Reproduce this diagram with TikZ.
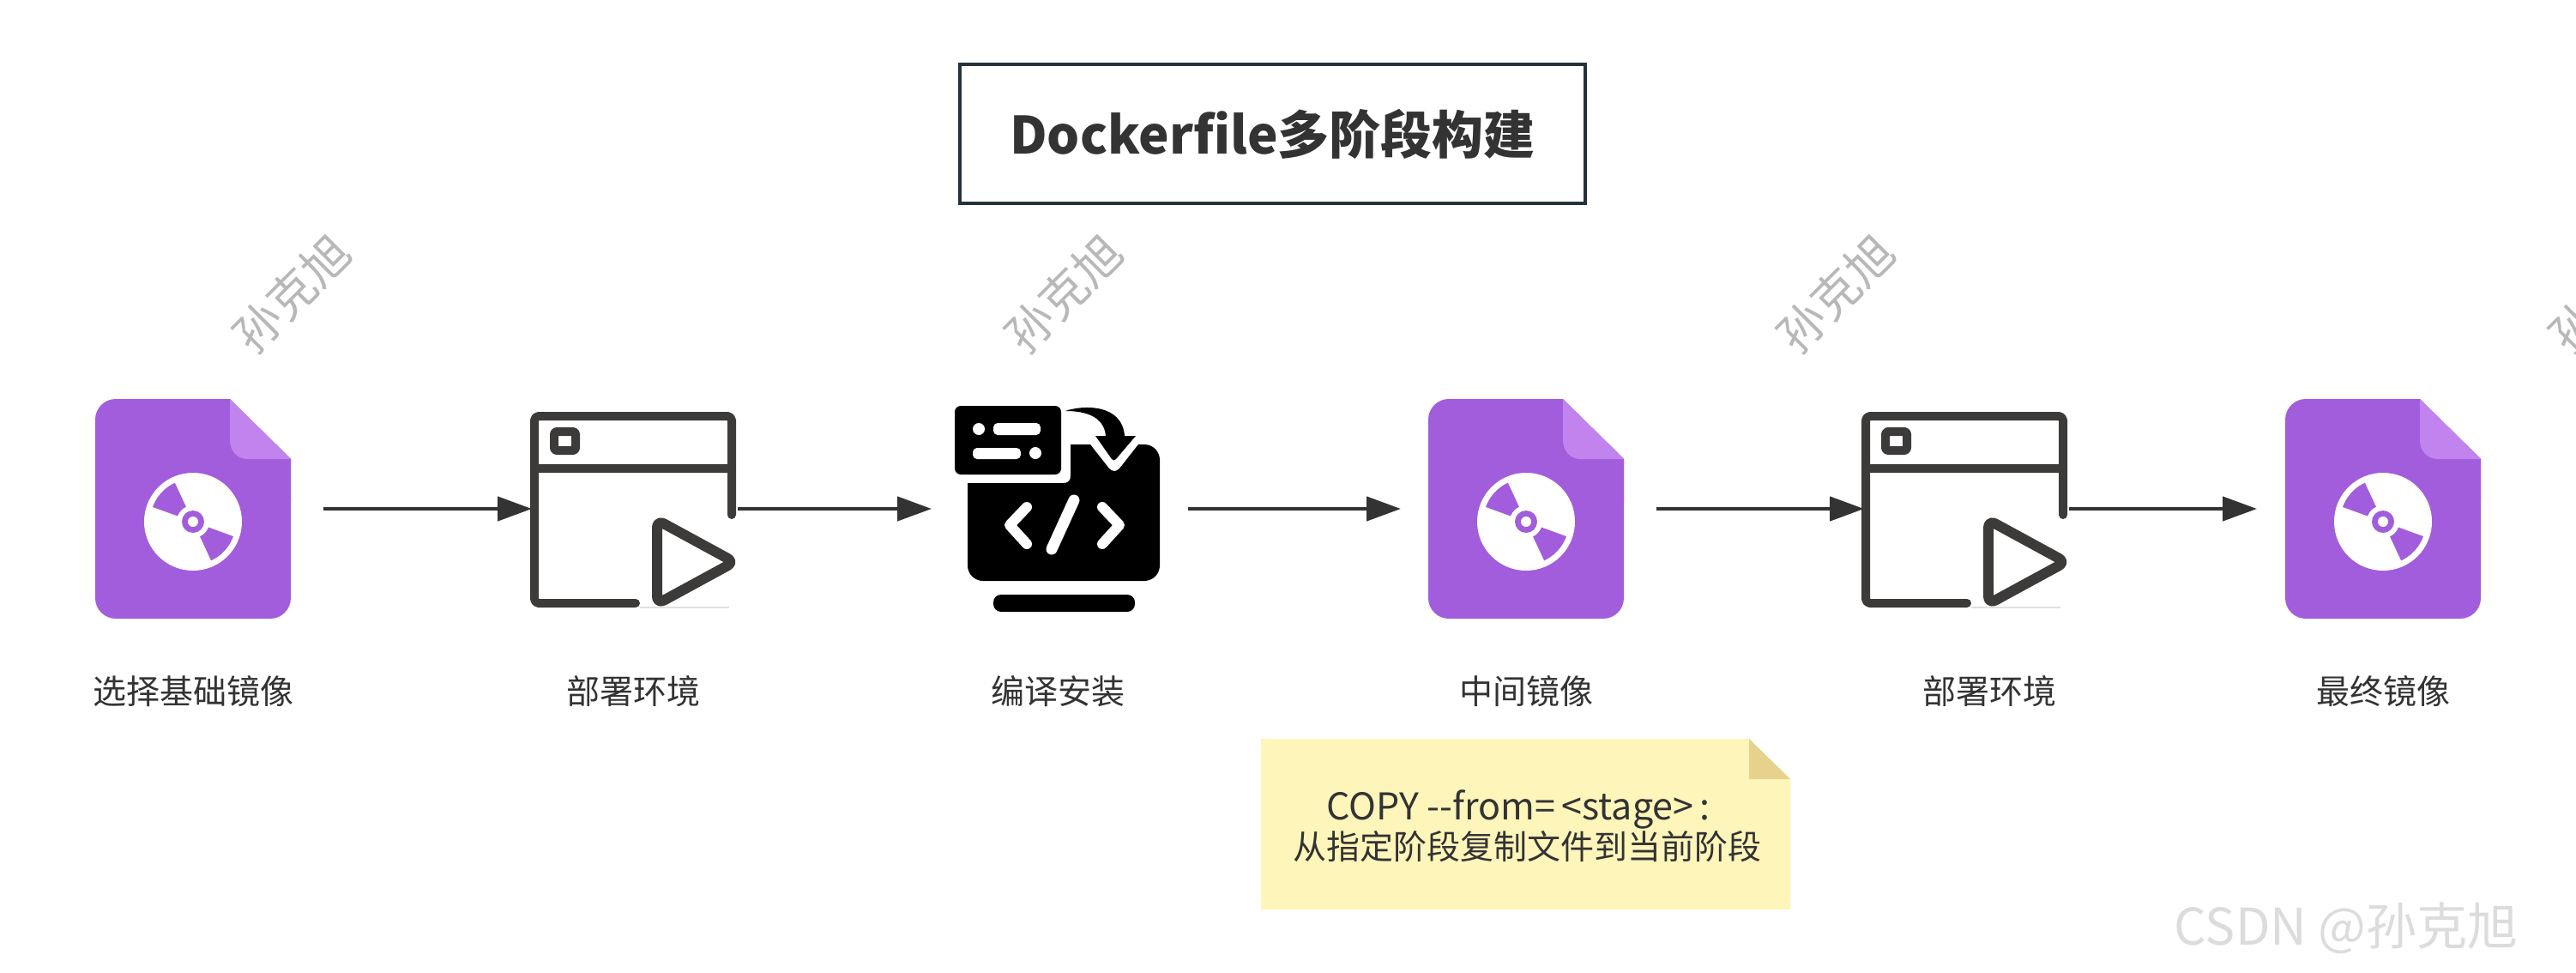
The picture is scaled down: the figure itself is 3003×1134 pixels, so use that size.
\documentclass[tikz,border=0pt]{standalone}
\usepackage{fontspec}
\setmainfont{Noto Sans CJK SC}
\usetikzlibrary{arrows.meta}
\definecolor{ink}{HTML}{333333}
\definecolor{frameink}{HTML}{263238}
\definecolor{winink}{HTML}{3D3A3A}
\definecolor{docpurple}{HTML}{A25DDC}
\definecolor{docfold}{HTML}{C184EE}
\definecolor{noteyellow}{HTML}{FEF5BB}
\definecolor{notefold}{HTML}{E6D28C}
\definecolor{markgrey}{HTML}{B8B8B8}
\definecolor{csdngrey}{HTML}{DCDCDC}
\tikzset{
  x=1pt,y=-1pt,
  iconbox/.style={inner sep=0pt,outer sep=0pt,minimum height=240pt},
  lab/.style={inner sep=0pt,text=ink,font=\fontsize{39}{46}\selectfont},
  flow/.style={draw=ink,line width=4.5pt,-{Triangle[length=40pt,width=28pt]}},
  winline/.style={draw=winink,line width=10pt,line cap=round,line join=round},
  wmark/.style={inner sep=0pt,text=markgrey,rotate=45,font=\fontsize{55}{55}\selectfont}
}
\newcommand{\docicon}[1]{%
  \begin{scope}[shift={(#1,465)}]
    \fill[docpurple,rounded corners=24pt] (0,0) -- (157,0) [sharp corners] -- (228,70) [rounded corners=24pt] -- (228,256) -- (0,256) -- cycle;
    \fill[docpurple] (100,0) -- (157,0) -- (228,70) -- (228,120) -- (100,120) -- cycle;
    \fill[docfold] (157,0) -- (228,70) -- (178,70) .. controls (165,70) and (157,60) .. (157,48) -- cycle;
    \fill[white] (114,143) circle[radius=57pt];
    \fill[docpurple] plot[domain=115:160,samples=12] ({114+50*cos(\x)},{143-50*sin(\x)}) -- plot[domain=160:115,samples=8] ({114+18*cos(\x)},{143-18*sin(\x)}) -- cycle;
    \fill[docpurple] plot[domain=295:340,samples=12] ({114+50*cos(\x)},{143-50*sin(\x)}) -- plot[domain=340:295,samples=8] ({114+18*cos(\x)},{143-18*sin(\x)}) -- cycle;
    \fill[white] (114,143) circle[radius=19pt];
    \fill[docpurple] (114,143) circle[radius=13pt];
    \fill[white] (114,143) circle[radius=6pt];
  \end{scope}}
\newcommand{\winicon}[1]{%
  \begin{scope}[shift={(#1,480)}]
    \draw[winline,rounded corners=5pt] (123,223) -- (5,223) -- (5,5) -- (235,5) -- (235,120);
    \draw[winline] (5,66) -- (235,66);
    \draw[winline,line width=10pt,rounded corners=3pt] (28,23) rectangle (53,45);
    \draw[winline,line width=12pt,rounded corners=9pt] (148,126) -- (148,224) -- (238,175) -- cycle;
    \draw[draw=black!12,line width=1.5pt] (128,228) -- (232,228);
  \end{scope}}
\begin{document}
\begin{tikzpicture}
\useasboundingbox (0,0) rectangle (3003,1134);
\clip (0,0) rectangle (3003,1134);
\fill[white] (0,0) rectangle (3003,1134);

% watermarks
\node[wmark] (w1) at (340,342) {孙克旭};
\node[wmark] (w2) at (1240,342) {孙克旭};
\node[wmark] (w3) at (2140,342) {孙克旭};
\node[wmark] (w4) at (3040,342) {孙克旭};
\node[inner sep=0pt,text=csdngrey,font=\fontsize{59}{59}\selectfont] (csdn) at (2735,1082) {CSDN @孙克旭};

% title
\node[draw=frameink,line width=4.5pt,minimum width=729pt,minimum height=162pt,inner sep=0pt,text=ink,font=\bfseries\fontsize{60}{60}\selectfont] (title) at (1483.5,156) {Dockerfile多阶段构建};

% icons
\docicon{111}
\winicon{618}
\docicon{1665}
\winicon{2170}
\docicon{2664}

% compile icon
\fill[black,rounded corners=7pt] (1113,473) rectangle (1237,553);
\fill[white,rounded corners=5pt] (1158,493) rectangle (1213,507);
\fill[white,rounded corners=5pt] (1134,522) rectangle (1190,535);
\fill[white] (1141,500) circle[radius=7pt];
\fill[white] (1207,528) circle[radius=7pt];
\fill[black] (1128,563) -- (1240,563) .. controls (1245,563) and (1248,560) .. (1248,555) -- (1248,518) -- (1271,518) -- (1293,546) .. controls (1297,550) and (1301,550) .. (1305,546) -- (1327,518) -- (1330,518) [rounded corners=18pt] -- (1352,518) -- (1352,677) -- (1128,677) -- (1128,640) [sharp corners] -- cycle;
\fill[black] (1242,479) .. controls (1262,472) and (1308,470) .. (1311,508) -- (1324,508) -- (1301,535) .. controls (1299,537) and (1298,537) .. (1296,535) -- (1277,508) -- (1289,508) .. controls (1287,485) and (1265,479) .. (1242,479) -- cycle;
\fill[black,rounded corners=9pt] (1158,693) rectangle (1323,713);
\draw[white,line width=12pt,line cap=round,line join=round] (1197,591) -- (1177,612) -- (1197,634);
\draw[white,line width=12pt,line cap=round,line join=round] (1285,591) -- (1305,612) -- (1285,634);
\draw[white,line width=13pt,line cap=round] (1252,583) -- (1226,640);

% anchor nodes of the icons
\node[iconbox,minimum width=228pt] (doca) at (225,593) {};
\node[iconbox,minimum width=240pt] (wina) at (738,593) {};
\node[iconbox,minimum width=239pt] (comp) at (1232.5,593) {};
\node[iconbox,minimum width=228pt] (docb) at (1779,593) {};
\node[iconbox,minimum width=240pt] (winb) at (2290,593) {};
\node[iconbox,minimum width=228pt] (docc) at (2778,593) {};

% connectors
\draw[flow,shorten <=38pt,shorten >=-2pt] (doca.east) -- (wina.west);
\draw[flow,shorten <=2pt,shorten >=27pt] (wina.east) -- (comp.west);
\draw[flow,shorten <=33pt,shorten >=32pt] (comp.east) -- (docb.west);
\draw[flow,shorten <=38pt,shorten >=-3pt] (docb.east) -- (winb.west);
\draw[flow,shorten <=2pt,shorten >=33pt] (winb.east) -- (docc.west);

% labels
\node[lab] (la) at (225,806) {选择基础镜像};
\node[lab] (lb) at (738,806) {部署环境};
\node[lab] (lc) at (1233,806) {编译安装};
\node[lab] (ld) at (1779,806) {中间镜像};
\node[lab] (le) at (2319,806) {部署环境};
\node[lab] (lf) at (2778,806) {最终镜像};

% note
\fill[noteyellow] (1470,861) -- (2039,861) -- (2087,908) -- (2087,1060) -- (1470,1060) -- cycle;
\fill[notefold] (2039,861) -- (2087,908) -- (2039,908) -- cycle;
\node[lab,align=center] (note) at (1780,963) {{\fontsize{43}{46}\selectfont COPY -{}-from=\,<stage>\,:}\hspace*{20pt}\\从指定阶段复制文件到当前阶段};
\end{tikzpicture}
\end{document}
